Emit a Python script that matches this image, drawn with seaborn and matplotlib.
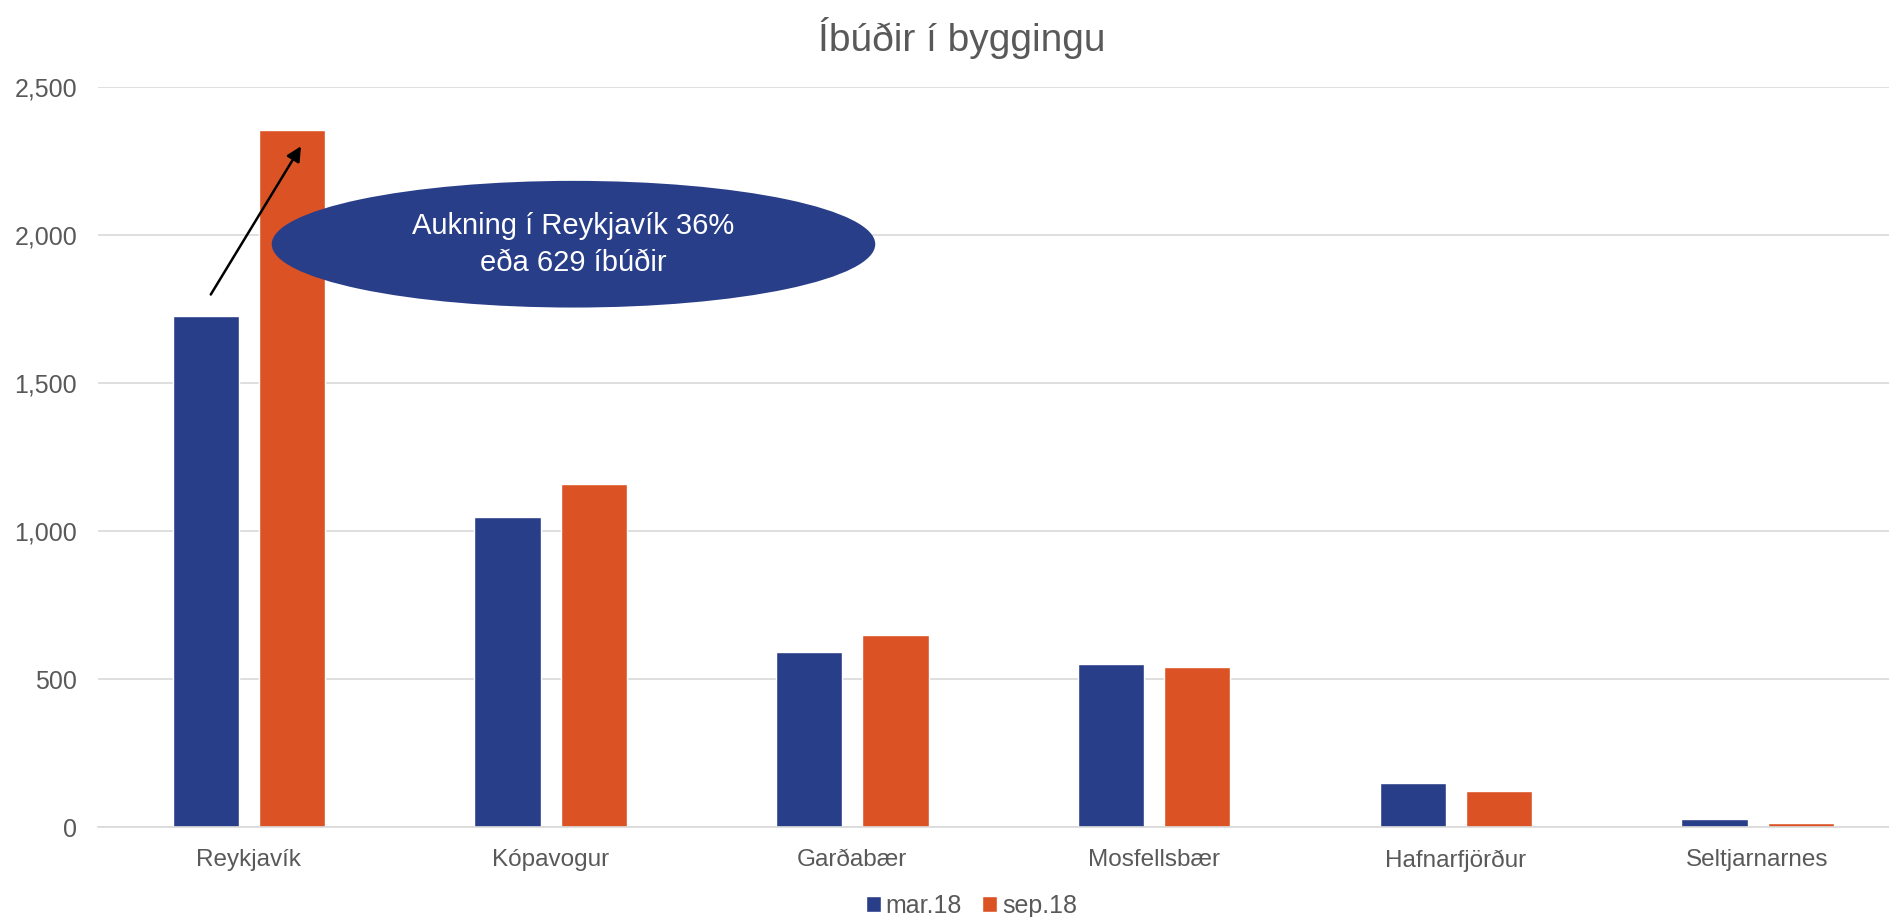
import pandas as pd
import matplotlib.pyplot as plt
import seaborn as sns
from matplotlib.patches import Ellipse

# Data
towns = ["Reykjavík", "Kópavogur", "Garðabær", "Mosfellsbær", "Hafnarfjörður", "Seltjarnarnes"]
mar_18 = [1727, 1048, 593, 550, 150, 26]
sep_18 = [2356, 1160, 650, 540, 123, 15]
periods = ["mar.18", "sep.18"]
colors = ["#293E89", "#DB5325"]

df = pd.DataFrame({
    "town": towns * 2,
    "period": [periods[0]] * len(towns) + [periods[1]] * len(towns),
    "value": mar_18 + sep_18,
})

sns.set_theme(style="white")
plt.rcParams["font.family"] = ["Liberation Sans", "DejaVu Sans"]

fig = plt.figure(figsize=(18.9, 9.17), dpi=100)
# plot area runs a bit past the right edge, like the cropped original
ax = fig.add_axes([0.0518, 0.0981, 0.958, 0.807])

sns.barplot(data=df, x="town", y="value", hue="period", palette=colors,
            width=0.571, gap=0.231, ax=ax, legend=True, saturation=1)

ax.set_ylim(0, 2500)
ax.set_yticks(range(0, 2501, 500))
ax.set_yticklabels([f"{v:,}" for v in range(0, 2501, 500)])
ax.yaxis.grid(True, color="#D9D9D9", linewidth=1.2)
ax.set_axisbelow(True)
for s in ["top", "right", "left"]:
    ax.spines[s].set_visible(False)
ax.spines["bottom"].set_color("#D9D9D9")
ax.spines["bottom"].set_linewidth(1.2)
ax.tick_params(axis="y", length=0, pad=15, labelsize=18, labelcolor="#595959")
ax.tick_params(axis="x", length=0, pad=16, labelsize=17.5, labelcolor="#595959")
ax.set_xlabel("")
ax.set_ylabel("")

fig.suptitle("Íbúðir í byggingu", x=0.509, y=0.982, fontsize=28, color="#595959")

# Legend
handles, labels = ax.get_legend_handles_labels()
ax.get_legend().remove()
fig.legend(handles, labels, loc="center", bbox_to_anchor=(0.514, 0.012), ncol=2,
           frameon=False, fontsize=18, labelcolor="#595959",
           handlelength=0.6, handleheight=0.6, handletextpad=0.2, columnspacing=0.8,
           borderpad=0)

# Callout
ell = Ellipse((1.076, 1969), width=2.0, height=428, facecolor="#293E89",
              edgecolor="none", zorder=5)
ax.add_patch(ell)
ax.text(1.076, 1969, "Aukning í Reykjavík 36%\neða 629 íbúðir", ha="center", va="center",
        color="white", fontsize=21, linespacing=1.4, zorder=6)
ax.annotate("", xy=(0.173, 2300), xytext=(-0.126, 1799),
            arrowprops=dict(arrowstyle="-|>", color="black", lw=1.8, mutation_scale=22,
                            shrinkA=0, shrinkB=0),
            zorder=7)

fig.savefig("out.png", dpi=100)
